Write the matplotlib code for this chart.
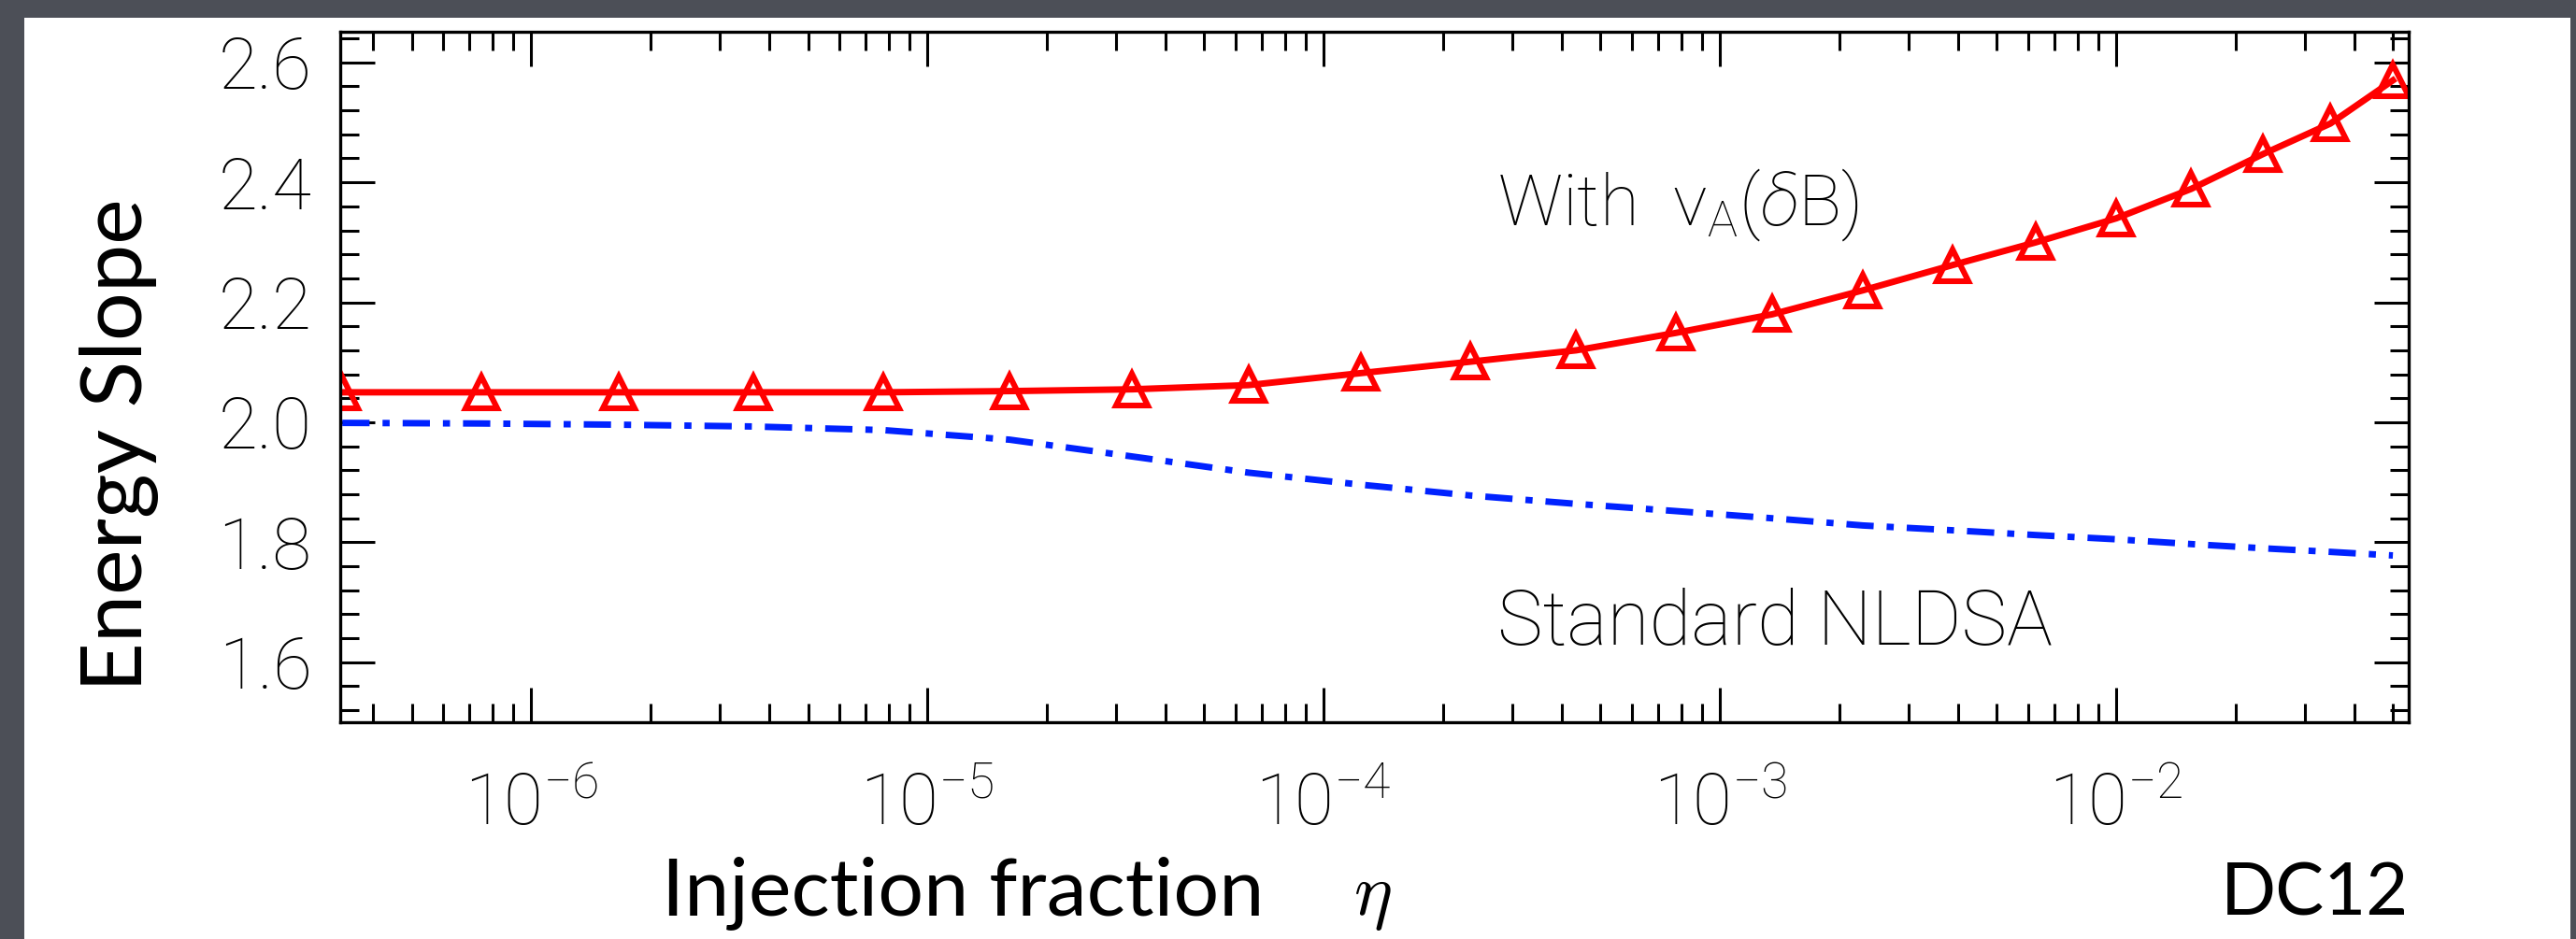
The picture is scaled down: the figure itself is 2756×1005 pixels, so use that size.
import math
import matplotlib
matplotlib.use("Agg")
import matplotlib.pyplot as plt
from matplotlib.patches import Rectangle
from matplotlib.ticker import LogLocator, MultipleLocator, FuncFormatter, NullFormatter

# injection fraction eta (same grid for both runs)
eta = [3.34e-7, 7.50e-7, 1.667e-6, 3.64e-6, 7.74e-6, 1.614e-5, 3.29e-5, 6.47e-5,
       1.242e-4, 2.344e-4, 4.34e-4, 7.74e-4, 1.355e-3, 2.296e-3, 3.86e-3,
       6.27e-3, 1.0e-2, 1.545e-2, 2.344e-2, 3.47e-2, 4.99e-2]

# energy slope with v_A(dB)
slope_va = [2.050, 2.050, 2.050, 2.050, 2.050, 2.052, 2.055, 2.062, 2.082, 2.101,
            2.120, 2.149, 2.180, 2.220, 2.262, 2.300, 2.340, 2.389, 2.447, 2.498, 2.570]

# standard NLDSA
slope_std = [1.999, 1.998, 1.996, 1.993, 1.987, 1.971, 1.943, 1.916, 1.896, 1.878,
             1.864, 1.852, 1.840, 1.828, 1.820, 1.812, 1.805, 1.797, 1.790, 1.784, 1.778]

plt.rcParams["font.family"] = ["Roboto", "DejaVu Sans"]
plt.rcParams["font.weight"] = "light"
plt.rcParams["mathtext.fontset"] = "custom"
plt.rcParams["mathtext.rm"] = "Roboto:light"
plt.rcParams["mathtext.it"] = "Roboto:italic:light"

W, H = 2756, 1005
fig = plt.figure(figsize=(W / 100, H / 100), dpi=100)
fig.patch.set_facecolor("#4c4f57")
fig.patches.append(Rectangle((26 / W, 0), (2750 - 26) / W, (H - 19) / H,
                             transform=fig.transFigure, facecolor="white",
                             edgecolor="none", zorder=-10))

ax = fig.add_axes([364 / W, 1 - 773 / H, (2577 - 364) / W, (773 - 34) / H])
ax.set_facecolor("white")

ax.plot(eta, slope_std, color="#0022ff", lw=5, dashes=[4.2, 2.0, 1.1, 2.0])
ax.plot(eta, slope_va, color="#ff0000", lw=5, marker="^", ms=25,
        mfc="none", mec="#ff0000", mew=4.4)

ax.set_xscale("log")
ax.set_xlim(3.3e-7, 5.47e-2)
ax.set_ylim(1.5, 2.651)

ax.xaxis.set_major_locator(LogLocator(base=10, numticks=20))
ax.xaxis.set_minor_locator(LogLocator(base=10, subs=range(2, 10), numticks=20))
ax.xaxis.set_minor_formatter(NullFormatter())


def dec_label(v, pos):
    e = int(round(math.log10(v)))
    return r"$\mathregular{10^{%d}}$" % e


ax.xaxis.set_major_formatter(FuncFormatter(dec_label))
ax.yaxis.set_major_locator(MultipleLocator(0.2))
ax.yaxis.set_minor_locator(MultipleLocator(0.04))
ax.yaxis.set_major_formatter(FuncFormatter(lambda v, p: "%.1f" % v))

ax.tick_params(which="both", direction="in", top=True, right=True, width=2.2, color="black")
ax.tick_params(which="major", length=26.6)
ax.tick_params(which="minor", length=14.4)
ax.tick_params(axis="y", which="major", labelsize=55, pad=22)
ax.tick_params(axis="x", which="major", labelsize=55, pad=38)
for s in ax.spines.values():
    s.set_linewidth(2.4)

fig.text(1602 / W, 1 - 241 / H, r"With  v$_\mathregular{A}$($\delta$B)",
         fontsize=55, ha="left", va="baseline")
fig.text(1602 / W, 1 - 690 / H, "Standard NLDSA",
         fontsize=59, ha="left", va="baseline")

fig.text(152 / W, 1 - 476 / H, "Energy Slope", rotation=90, rotation_mode="anchor",
         ha="center", va="baseline", fontsize=66, family="Lato", weight="normal")
fig.text(708 / W, 1 - 979 / H, "Injection fraction", ha="left", va="baseline",
         fontsize=62, family="Lato", weight="normal")
fig.text(1468 / W, 1 - 979 / H, r"$\eta$", ha="center", va="baseline",
         fontsize=56, math_fontfamily="cm", weight="normal")
fig.text(2577 / W, 1 - 979 / H, "DC12", ha="right", va="baseline",
         fontsize=56, family="Lato", weight="normal")

fig.savefig("out.png", dpi=100, facecolor=fig.get_facecolor())
